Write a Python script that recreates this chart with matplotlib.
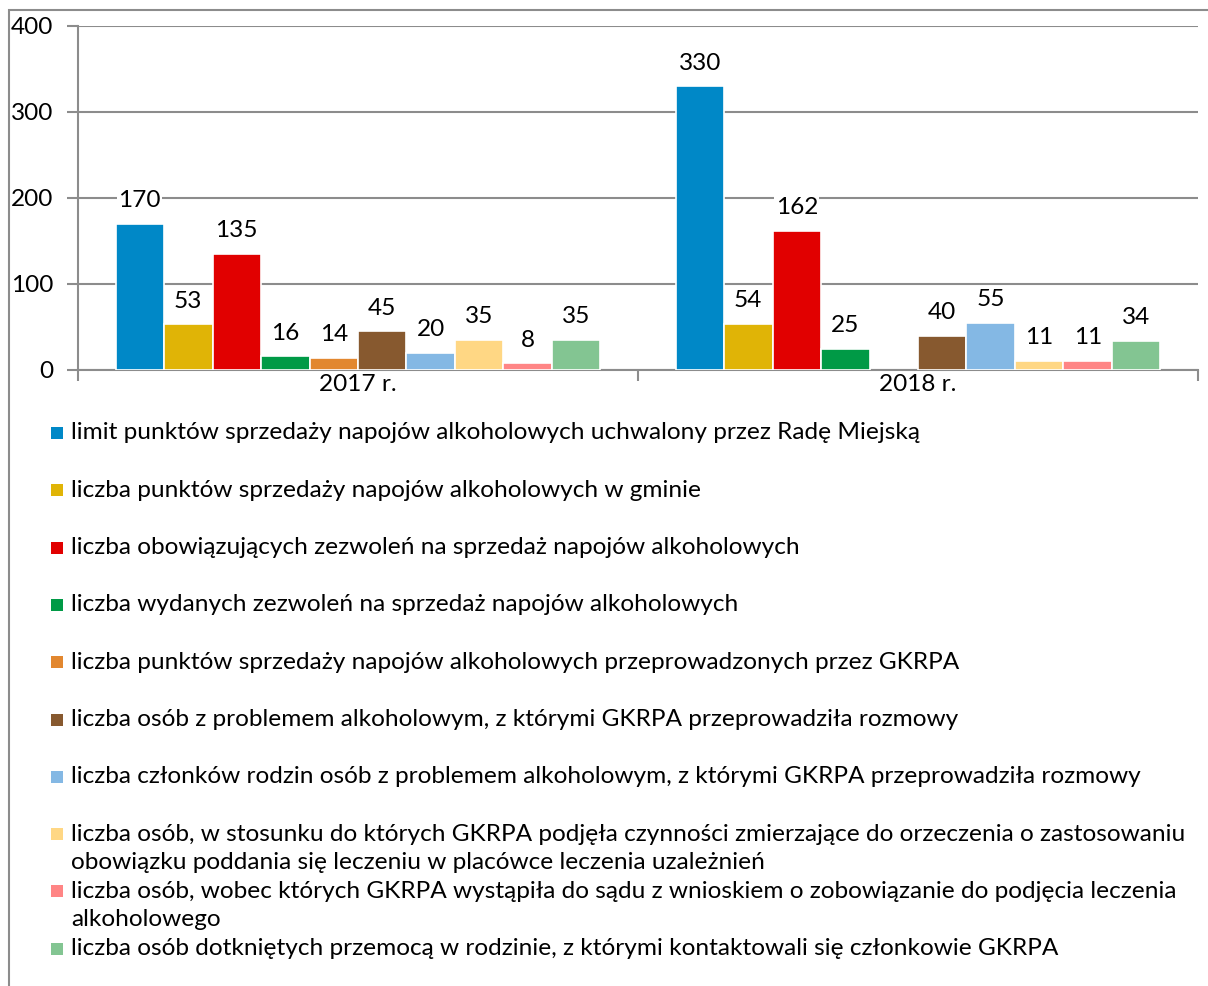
import matplotlib.pyplot as plt
import matplotlib.patches as mpatches
import numpy as np

# --- dane ---
lata = ['2017 r.', '2018 r.']

serie = [
    'limit punktów sprzedaży napojów alkoholowych uchwalony przez Radę Miejską',
    'liczba punktów sprzedaży napojów alkoholowych w gminie',
    'liczba obowiązujących zezwoleń na sprzedaż napojów alkoholowych',
    'liczba wydanych zezwoleń na sprzedaż napojów alkoholowych',
    'liczba punktów sprzedaży napojów alkoholowych przeprowadzonych przez GKRPA',
    'liczba osób z problemem alkoholowym, z którymi GKRPA przeprowadziła rozmowy',
    'liczba członków rodzin osób z problemem alkoholowym, z którymi GKRPA przeprowadziła rozmowy',
    'liczba osób, w stosunku do których GKRPA podjęła czynności zmierzające do orzeczenia o zastosowaniu\n'
    'obowiązku poddania się leczeniu w placówce leczenia uzależnień',
    'liczba osób, wobec których GKRPA wystąpiła do sądu z wnioskiem o zobowiązanie do podjęcia leczenia\n'
    'alkoholowego',
    'liczba osób dotkniętych przemocą w rodzinie, z którymi kontaktowali się członkowie GKRPA',
]

wartosci_2017 = [170, 53, 135, 16, 14, 45, 20, 35, 8, 35]
wartosci_2018 = [330, 54, 162, 25, np.nan, 40, 55, 11, 11, 34]

kolory = ['#0088C7', '#E0B406', '#E10000', '#009A46', '#E2872F',
          '#87592F', '#84B8E4', '#FFD784', '#FF8585', '#83C592']

plt.rcParams['font.family'] = ['Lato', 'DejaVu Sans']
FS = 17.6
W, H = 1208, 986

fig = plt.figure(figsize=(W / 100, H / 100), dpi=100)
ax = fig.add_axes([78 / W, 1 - 370 / H, 1120 / W, 344 / H])

# --- słupki ---
n = len(serie)
szer = 0.0866
x = np.arange(len(lata))
for i in range(n):
    vals = [wartosci_2017[i], wartosci_2018[i]]
    bars = ax.bar(x + (i - (n - 1) / 2) * szer, vals, width=szer, color=kolory[i],
                  edgecolor='white', linewidth=1.2, zorder=3)
    labels = ['' if np.isnan(v) else f'{int(v)}' for v in vals]
    for t in ax.bar_label(bars, labels=labels, padding=9, fontsize=FS, zorder=4):
        t.set_bbox(dict(facecolor='white', edgecolor='none', pad=1))

# --- osie ---
grey = '#8C8C8C'
ax.set_xlim(-0.5, 1.5)
ax.set_ylim(0, 400)
ax.set_yticks([0, 100, 200, 300, 400])
ax.yaxis.grid(True, color=grey, linewidth=1.5, zorder=0)
ax.set_axisbelow(True)
ax.tick_params(axis='y', length=8, width=1.5, color=grey, labelsize=FS, pad=10)
ax.set_xticks(x)
ax.set_xticklabels(lata, fontsize=FS)
ax.set_xticks([-0.5, 0.5, 1.5], minor=True)
ax.tick_params(axis='x', which='major', length=0, pad=3)
ax.tick_params(axis='x', which='minor', length=8, width=1.5, color=grey)
for s in ['top', 'right']:
    ax.spines[s].set_visible(False)
for s in ['left', 'bottom']:
    ax.spines[s].set_color(grey)
    ax.spines[s].set_linewidth(1.5)

# --- legenda (ręcznie, bo Excel ma stałą wysokość wpisu) ---
y0, krok, linia = 433, 57.3, 28
for i, (lab, kol) in enumerate(zip(serie, kolory)):
    yc = y0 + i * krok
    fig.patches.append(mpatches.Rectangle((51 / W, 1 - (yc + 6) / H), 12 / W, 12 / H,
                                          transform=fig.transFigure, facecolor=kol,
                                          edgecolor='none'))
    for j, wiersz in enumerate(lab.split('\n')):
        fig.text(71 / W, 1 - (yc + j * linia) / H, wiersz, fontsize=FS,
                 va='center', ha='left')

# --- ramka ---
fig.patches.append(mpatches.Rectangle((9 / W, -0.01), 1.0, 1 - 10 / H + 0.01,
                                      transform=fig.transFigure, facecolor='none',
                                      edgecolor=grey, linewidth=1.5))

fig.savefig('out.png', dpi=100)
